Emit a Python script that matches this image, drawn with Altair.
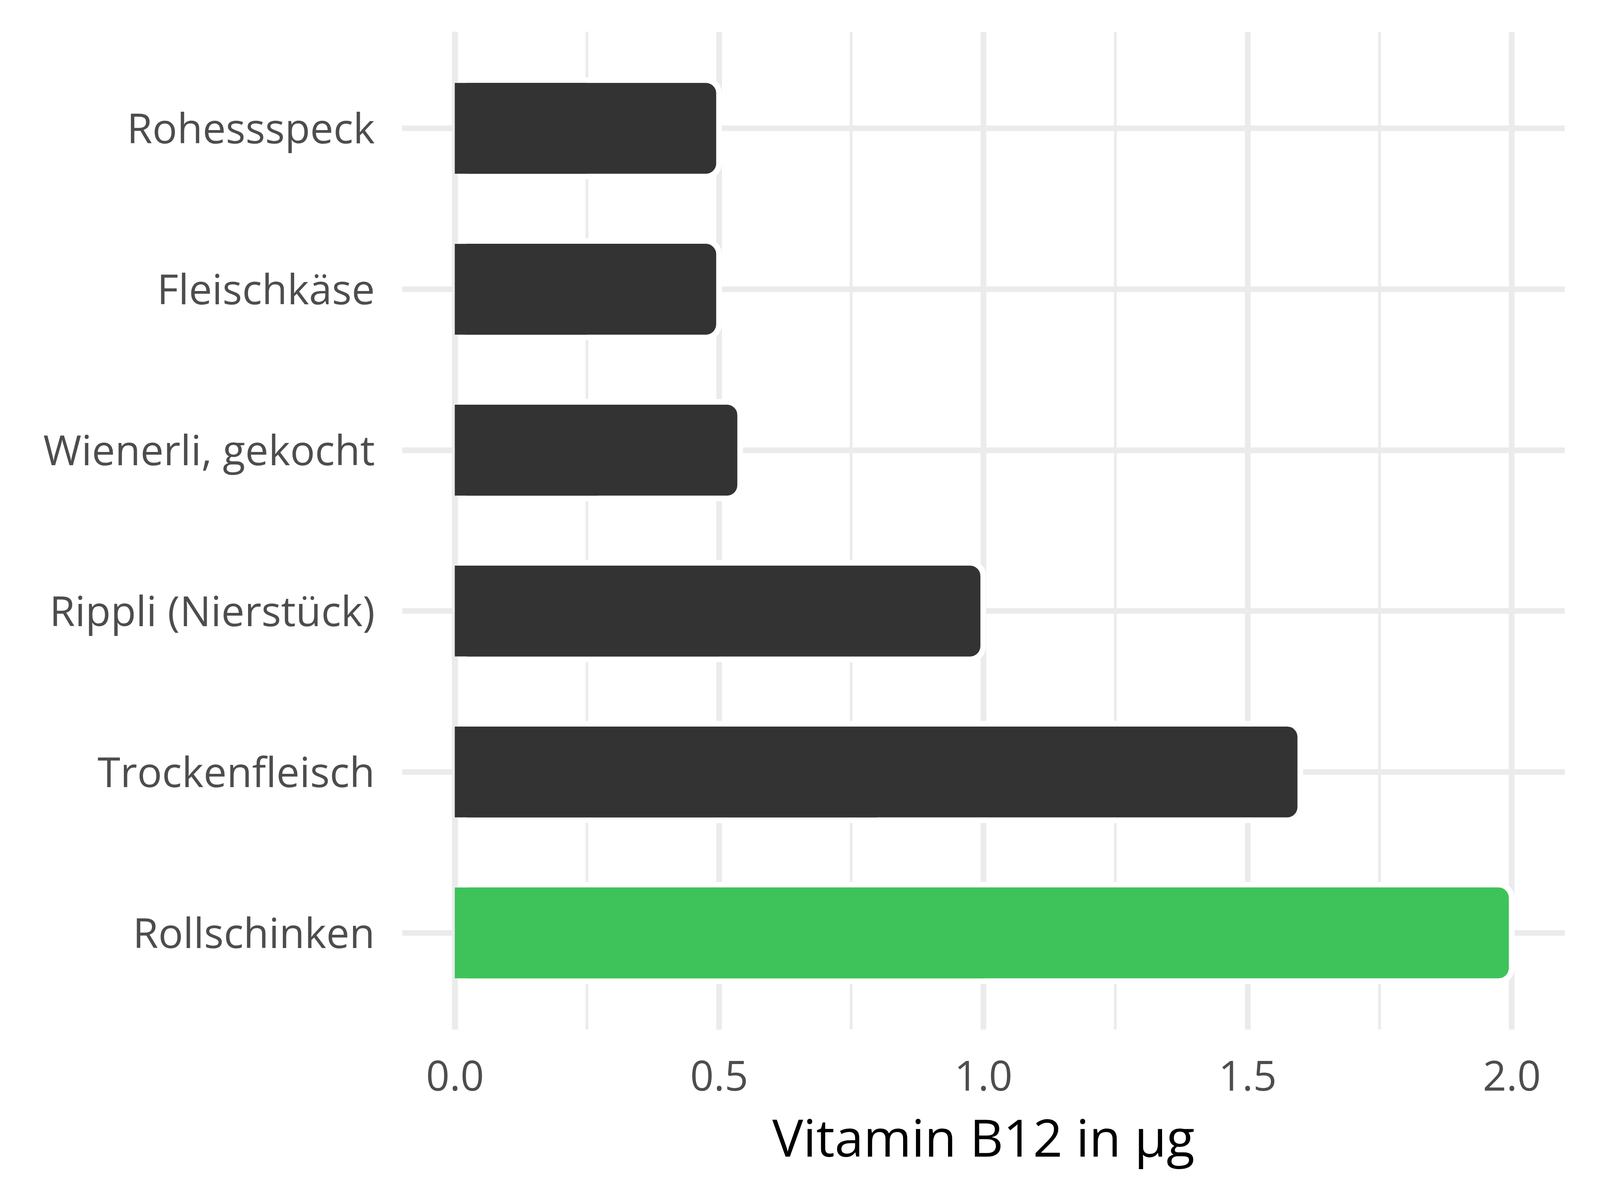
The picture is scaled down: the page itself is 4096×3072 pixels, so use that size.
import altair as alt
import pandas as pd

# ---- data ----
categories = ["Rohessspeck", "Fleischkäse", "Wienerli, gekocht",
              "Rippli (Nierstück)", "Trockenfleisch", "Rollschinken"]
values = [0.5, 0.5, 0.54, 1.0, 1.6, 2.0]
groups = ["base", "base", "base", "base", "base", "hl"]
major_ticks = [0.0, 0.5, 1.0, 1.5, 2.0]
minor_ticks = [0.25, 0.75, 1.25, 1.75]
zero_line = [0.0]
x_title = "Vitamin B12 in µg"

df = pd.DataFrame({"name": categories, "value": values, "group": groups})
minor_df = pd.DataFrame({"value": minor_ticks})
zero_df = pd.DataFrame({"value": zero_line})

# ---- style ----
FONT = "Open Sans"
GRID = "#EBEBEB"
MAJOR_W = 14.5
MINOR_W = 7
LABEL_SIZE = 106
TITLE_SIZE = 133

x_scale = alt.Scale(domain=[-0.1, 2.1], nice=False, zero=False)
y_scale = alt.Scale(paddingInner=0.4, paddingOuter=0.3)
color_scale = alt.Scale(domain=["base", "hl"], range=["#333333", "#3EC35A"])

x_axis = alt.Axis(
    values=major_ticks, format=".1f", grid=True, gridColor=GRID,
    gridWidth=MAJOR_W, domain=False, ticks=False, tickSize=0,
    labelFont=FONT, labelFontSize=LABEL_SIZE, labelColor="#4D4D4D",
    labelPadding=156.5, labelBaseline="alphabetic",
    title=x_title, titleFont=FONT, titleFontSize=TITLE_SIZE,
    titleFontWeight="normal", titleColor="#000000",
    titleBaseline="alphabetic", titleY=325.5,
)
y_axis = alt.Axis(
    grid=True, gridColor=GRID, gridWidth=MAJOR_W, bandPosition=0.5,
    domain=False, ticks=False, tickSize=0,
    labelFont=FONT, labelFontSize=LABEL_SIZE, labelColor="#4D4D4D",
    labelPadding=70, labelBaseline="alphabetic", labelOffset=39,
    labelLimit=3000, title=None,
)

minor_rules = alt.Chart(minor_df).mark_rule(
    color=GRID, strokeWidth=MINOR_W
).encode(x=alt.X("value:Q", scale=x_scale, axis=x_axis))

main_bars = alt.Chart(df).transform_calculate(start="0").mark_bar(
    stroke="white", strokeWidth=MAJOR_W, cornerRadius=34
).encode(
    x=alt.X("start:Q", scale=x_scale, axis=x_axis),
    x2="value:Q",
    y=alt.Y("name:N", sort=categories, scale=y_scale, axis=y_axis),
    color=alt.Color("group:N", scale=color_scale, legend=None),
)

zero_rule = alt.Chart(zero_df).mark_rule(
    color=GRID, strokeWidth=MAJOR_W
).encode(x=alt.X("value:Q", scale=x_scale, axis=x_axis))

overlay = alt.Chart(df).transform_calculate(
    start="0", half="datum.value / 2"
).mark_bar(size=233).encode(
    x=alt.X("start:Q", scale=x_scale, axis=x_axis),
    x2="half:Q",
    y=alt.Y("name:N", sort=categories, scale=y_scale, axis=y_axis),
    color=alt.Color("group:N", scale=color_scale, legend=None),
)

chart = alt.layer(minor_rules, main_bars, zero_rule, overlay).properties(
    width=2982,
    height=2559,
    autosize=alt.AutoSizeParams(type="none"),
    padding={"left": 1023, "top": 70.5, "right": 83, "bottom": 434},
    background="white",
).configure_view(strokeWidth=0)

chart.save("out.html", embed_options={"renderer": "svg", "actions": False})
